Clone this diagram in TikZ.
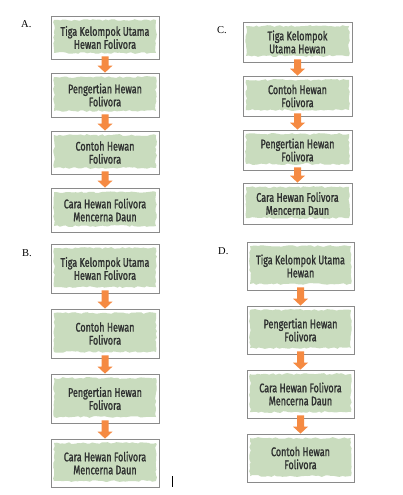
\documentclass[tikz,border=0pt]{standalone}
\usepackage{fontspec}
\setmainfont{Liberation Serif}
\newfontfamily\boxfont{Fira Sans}[FakeStretch=0.72, FakeBold=1.2]
\usetikzlibrary{calc,decorations.pathmorphing}
\definecolor{sage}{HTML}{C9DCBE}
\definecolor{boxline}{HTML}{8A8A8A}
\definecolor{arrorange}{HTML}{F58A42}
\definecolor{txt}{HTML}{2E3030}
\newcommand\flowarrow[2]{%
  \fill[arrorange] ($(#1.south)+(-3.5,-3)$) -- ($(#1.south)+(3.5,-3)$)
    -- ($(#2.north)+(3.5,-7)$) -- ($(#2.north)+(7.5,-7)$) -- (#2.north)
    -- ($(#2.north)+(-7.5,-7)$) -- ($(#2.north)+(-3.5,-7)$) -- cycle;}
\begin{document}
\begin{tikzpicture}[x=1pt,y=-1pt,
  flowbox/.style={draw=boxline, line width=0.8pt, fill=white, inner sep=0pt,
    align=center, text=txt, font=\boxfont\fontsize{12.5}{13}\selectfont,
    path picture={
      \fill[sage, decorate, decoration={random steps, segment length=3pt, amplitude=0.9pt}]
        ($(path picture bounding box.north west)+(3,4)$) rectangle
        ($(path picture bounding box.south east)+(-3,-6)$);
    }},
  lab/.style={font=\fontsize{10.5}{12}\selectfont, anchor=west, inner sep=0pt}]
\useasboundingbox (0,0) rectangle (403,495);
\fill[white] (0,0) rectangle (403,495);

% Panel A
\node[lab] (la) at (21,24) {A.};
\node[flowbox, minimum width=108pt, minimum height=43pt] (a1) at (105,37.5) {Tiga Kelompok Utama\\Hewan Folivora};
\node[flowbox, minimum width=108pt, minimum height=44pt] (a2) at (105,95) {Pengertian Hewan\\Folivora};
\node[flowbox, minimum width=108pt, minimum height=43pt] (a3) at (105,152.5) {Contoh Hewan\\Folivora};
\node[flowbox, minimum width=108pt, minimum height=44pt] (a4) at (105,210) {Cara Hewan Folivora\\Mencerna Daun};
\flowarrow{a1}{a2}
\flowarrow{a2}{a3}
\flowarrow{a3}{a4}

% Panel C
\node[lab] (lc) at (217,30) {C.};
\node[flowbox, minimum width=109pt, minimum height=40pt] (c1) at (297.5,42) {Tiga Kelompok\\Utama Hewan};
\node[flowbox, minimum width=109pt, minimum height=40pt] (c2) at (297.5,96) {Contoh Hewan\\Folivora};
\node[flowbox, minimum width=109pt, minimum height=40pt] (c3) at (297.5,150) {Pengertian Hewan\\Folivora};
\node[flowbox, minimum width=109pt, minimum height=41pt] (c4) at (297.5,203.5) {Cara Hewan Folivora\\Mencerna Daun};
\flowarrow{c1}{c2}
\flowarrow{c2}{c3}
\flowarrow{c3}{c4}

% Panel B
\node[lab] (lb) at (22,253) {B.};
\node[flowbox, minimum width=108pt, minimum height=49pt] (b1) at (105,268.5) {Tiga Kelompok Utama\\Hewan Folivora};
\node[flowbox, minimum width=108pt, minimum height=49pt] (b2) at (105,333.5) {Contoh Hewan\\Folivora};
\node[flowbox, minimum width=108pt, minimum height=49pt] (b3) at (105,398.5) {Pengertian Hewan\\Folivora};
\node[flowbox, minimum width=108pt, minimum height=48pt] (b4) at (105,463) {Cara Hewan Folivora\\Mencerna Daun};
\flowarrow{b1}{b2}
\flowarrow{b2}{b3}
\flowarrow{b3}{b4}
\coordinate (cur1) at (172,476);
\coordinate (cur2) at (172,487);
\draw[black, line width=0.8pt] (cur1) -- (cur2);

% Panel D
\node[lab] (ld) at (218,251) {D.};
\node[flowbox, minimum width=107pt, minimum height=48pt] (d1) at (300.5,266) {Tiga Kelompok Utama\\Hewan};
\node[flowbox, minimum width=107pt, minimum height=48pt] (d2) at (300.5,330) {Pengertian Hewan\\Folivora};
\node[flowbox, minimum width=107pt, minimum height=48pt] (d3) at (300.5,394) {Cara Hewan Folivora\\Mencerna Daun};
\node[flowbox, minimum width=107pt, minimum height=48pt] (d4) at (300.5,458) {Contoh Hewan\\Folivora};
\flowarrow{d1}{d2}
\flowarrow{d2}{d3}
\flowarrow{d3}{d4}
\end{tikzpicture}
\end{document}
